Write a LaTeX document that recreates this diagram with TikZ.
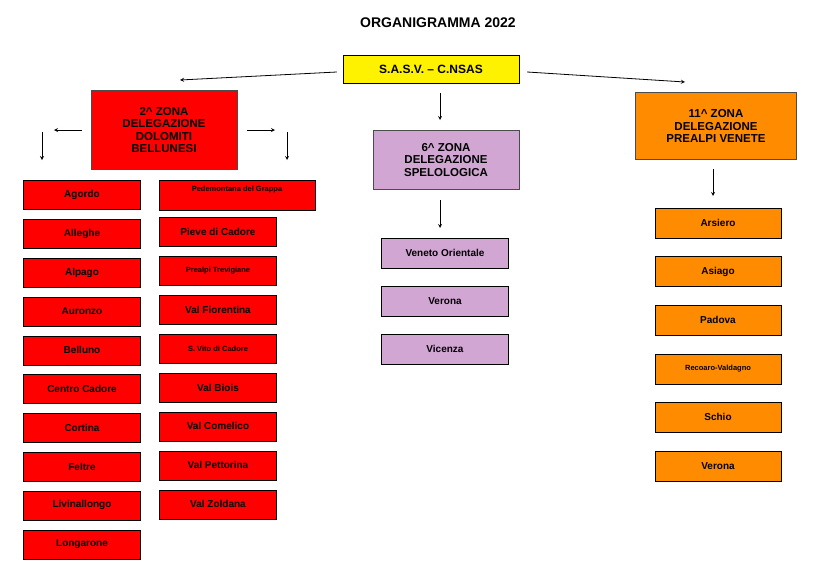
\documentclass[tikz,border=0pt]{standalone}
\usepackage{fontspec}
\setmainfont{Liberation Sans}
\begin{document}
\begin{tikzpicture}[x=1pt,y=-1pt,auto]
	\tikzstyle{box} = [draw, rectangle, thin, fill=red, inner sep=1pt, align=center, font={\bfseries\fontsize{10}{11}\selectfont}];
	\tikzstyle{zone} = [box, draw=black!70, font={\bfseries\fontsize{11.5}{12.5}\selectfont}];
	\tikzstyle{small} = [font={\bfseries\fontsize{7.5}{8}\selectfont}];
	\tikzstyle{point} = [->, thick, >=stealth];
	\tikzstyle{lila} = [box, fill=violet!35];
	\tikzstyle{aran} = [box, fill=orange!90!yellow];

	\useasboundingbox (0,0) rectangle (824,576);

	\node[font={\bfseries\fontsize{14}{16}\selectfont}] (title) at (438,23) {ORGANIGRAMMA 2022};
	\node[box, fill=yellow, minimum width=176, minimum height=28, font={\bfseries\fontsize{12}{13}\selectfont}] (root) at (431,69) {S.A.S.V. -- C.NSAS};

	\node[zone, minimum width=146, minimum height=79] (dol) at (164,130) {2\^{} ZONA\\DELEGAZIONE\\DOLOMITI\\BELLUNESI};
	\node[zone, fill=violet!35, minimum width=146, minimum height=59] (spe) at (446,160) {6\^{} ZONA\\DELEGAZIONE\\SPELOLOGICA};
	\node[zone, fill=orange!90!yellow, minimum width=161, minimum height=67] (pre) at (716,126) {11\^{} ZONA\\DELEGAZIONE\\PREALPI VENETE};

	% frecce principali
	\coordinate (rl) at (180,80);
	\coordinate (rr) at (685,82);
	\coordinate (rd) at (440,120);
	\draw[point] (root.west) ++(-6,3) coordinate (r1) -- (rl);
	\draw[point] (root.east) ++(8,3) coordinate (r2) -- (rr);
	\draw[point] (440,93) coordinate (r3) -- (rd);

	% frecce zona dolomiti
	\coordinate (la) at (82,130); \coordinate (lb) at (54,130);
	\coordinate (ra) at (247,130); \coordinate (rb) at (275,130);
	\coordinate (ld) at (42,132); \coordinate (le) at (42,160);
	\coordinate (rdd) at (287,132); \coordinate (rde) at (287,160);
	\draw[point] (la) -- (lb);
	\draw[point] (ra) -- (rb);
	\draw[point] (ld) -- (le);
	\draw[point] (rdd) -- (rde);

	\coordinate (sa) at (440,200); \coordinate (sb) at (440,228);
	\coordinate (pa) at (713,169); \coordinate (pb) at (713,196);
	\draw[point] (sa) -- (sb);
	\draw[point] (pa) -- (pb);

	% prima colonna
	\foreach \t [count=\i] in {Agordo, Alleghe, Alpago, Auronzo, Belluno, Centro Cadore, Cortina, Feltre, Livinallongo, Longarone} {
		\node[box, minimum width=117, minimum height=29] (a\i) at (82,{195+(\i-1)*38.8}) {\t};
	}

	% seconda colonna
	\node[box, small, minimum width=156, minimum height=30, text depth=12pt] (b1) at (237,195) {Pedemontana del Grappa};
	\foreach \t/\s [count=\i from 2] in {Pieve di Cadore/, Prealpi Trevigiane/small, Val Fiorentina/, S. Vito di Cadore/small, Val Biois/, Val Comelico/, Val Pettorina/, Val Zoldana/} {
		\node[box, \s, minimum width=117, minimum height=29] (b\i) at (218,{193+(\i-1)*38.9}) {\t};
	}

	% delegazione speleologica
	\foreach \t [count=\i] in {Veneto Orientale, Verona, Vicenza} {
		\node[lila, minimum width=127, minimum height=30] (c\i) at (445,{253+(\i-1)*48}) {\t};
	}

	% prealpi venete
	\foreach \t/\s [count=\i] in {Arsiero/, Asiago/, Padova/, Recoaro-Valdagno/small, Schio/, Verona/} {
		\node[aran, \s, minimum width=126, minimum height=30] (d\i) at (718,{223+(\i-1)*48.6}) {\t};
	}
\end{tikzpicture}
\end{document}
